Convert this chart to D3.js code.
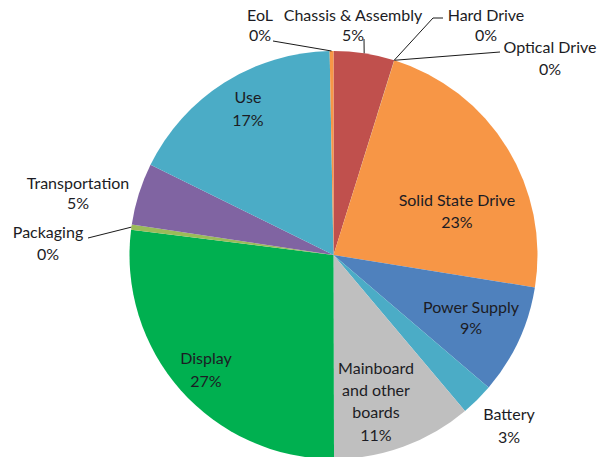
<!DOCTYPE html>
<html><head><meta charset="utf-8">
<script src="https://cdn.jsdelivr.net/npm/d3@7"></script>
<style>body{margin:0;background:#fff}svg{display:block}</style>
</head><body>
<svg id="c" width="606" height="457"></svg>
<script>
const categories = ["Chassis & Assembly","Hard Drive","Optical Drive","Solid State Drive","Power Supply","Battery","Mainboard and other boards","Display","Packaging","Transportation","Use","EoL"];
const values = [4.8,0.01,0.01,22.7,8.7,2.6,11.1,27.0,0.4,4.9,17.4,0.3];
const colors = ["#C0504D","#9BBB59","#8064A2","#F79646","#4F81BD","#4BACC6","#BFBFBF","#00B050","#9BBB59","#8064A2","#4BACC6","#F79646"];
const labelLines = [["Chassis & Assembly"],["Hard Drive"],["Optical Drive"],["Solid State Drive"],["Power Supply"],["Battery"],["Mainboard","and other","boards"],["Display"],["Packaging"],["Transportation"],["Use"],["EoL"]];
const labelLayout = [
  {x:353,y:15,dy:20.5,leader:[[364,39]]},
  {x:486,y:15,dy:20.5,leader:[[443,18],[433,18]]},
  {x:550,y:47,dy:22.5,leader:[[500,52]]},
  {x:457,y:200,dy:22},
  {x:471,y:307,dy:21.5},
  {x:509,y:414,dy:23.5},
  {x:376,y:368,dy:22.3},
  {x:206,y:358,dy:23.5},
  {x:48,y:232,dy:22,leader:[[88,238]]},
  {x:78,y:183,dy:20.5},
  {x:248,y:97,dy:23},
  {x:260,y:15,dy:20.5,leader:[[273,41]]}
];

const cx = 333.5, cy = 255, R = 204;
const svg = d3.select("#c");
const g = svg.append("g").attr("transform", `translate(${cx},${cy})`);
const data = categories.map((c,i)=>({name:c,value:values[i],color:colors[i],lines:labelLines[i],lay:labelLayout[i]}));
const total = d3.sum(values);
const pie = d3.pie().value(d=>d.value).sort(null).startAngle(0).endAngle(2*Math.PI);
const arc = d3.arc().innerRadius(0).outerRadius(R);
const arcs = pie(data);

g.selectAll("path.s").data(arcs).enter().append("path")
  .attr("class","s").attr("d",arc).attr("fill",d=>d.data.color);

arcs.forEach(a=>{
  const L = a.data.lay.leader;
  if(!L) return;
  const mid = (a.startAngle+a.endAngle)/2;
  const px = cx + R*Math.sin(mid), py = cy - R*Math.cos(mid);
  const pts = L.concat([[px,py]]);
  svg.append("path").attr("d", d3.line()(pts))
    .attr("fill","none").attr("stroke","#1a1a1a").attr("stroke-width",1);
});

arcs.forEach(a=>{
  const d = a.data, lay = d.lay;
  const pct = Math.round(d.value/total*100) + "%";
  const lines = d.lines.concat([pct]);
  const t = svg.append("text").attr("text-anchor","middle")
    .attr("font-family","Lato, 'Open Sans', sans-serif").attr("font-size",16)
    .attr("fill","#1c1c24");
  lines.forEach((ln,i)=>{
    t.append("tspan").attr("x",lay.x).attr("y",lay.y + i*lay.dy).attr("dy","0.35em").text(ln);
  });
});
</script>
</body></html>
